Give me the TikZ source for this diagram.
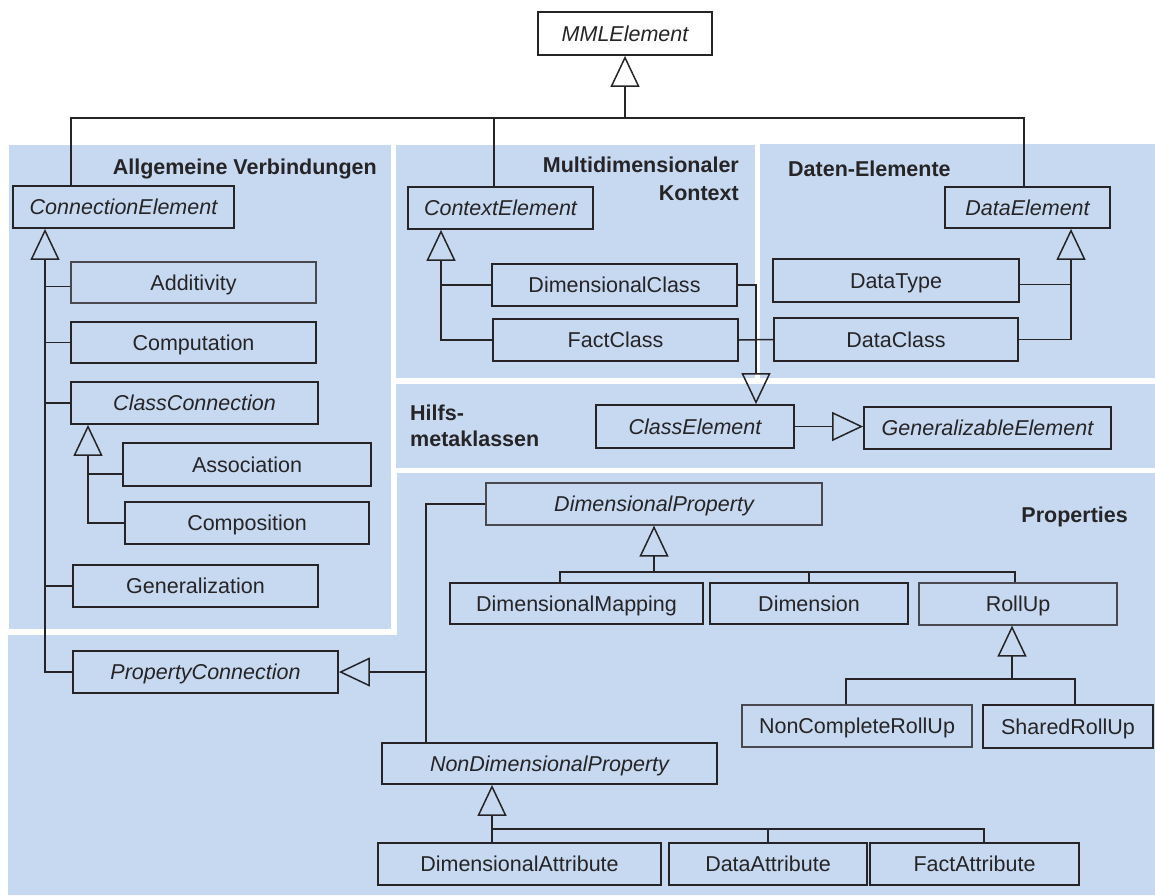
\documentclass[tikz,border=0pt]{standalone}
\usepackage{fontspec}
\setmainfont{Liberation Sans}
\usetikzlibrary{arrows.meta}
\definecolor{panel}{RGB}{198,217,240}
\definecolor{ink}{RGB}{38,36,38}
\definecolor{inkl}{RGB}{72,72,78}
\begin{document}
\begin{tikzpicture}[x=1pt,y=-1pt,
  every node/.style={font=\fontsize{21.5}{26}\selectfont, text=ink},
  box/.style={draw=ink, line width=1.8pt, inner sep=0pt, text height=15.5pt, text depth=0pt},
  lbox/.style={box, draw=inkl, line width=1.2pt},
  abs/.style={font=\fontsize{21.5}{26}\selectfont\itshape},
  head/.style={font=\fontsize{21.5}{26}\selectfont\bfseries, inner sep=0pt},
  conn/.style={draw=ink, line width=1.5pt},
  gen/.style={conn, -{Triangle[open, length=31pt, width=29pt]}},
]
\useasboundingbox (0,0) rectangle (1155,895);
% panels
\fill[panel] (9,145) rectangle (391,629);
\fill[panel] (396,145) rectangle (755,378);
\fill[panel] (760,144) rectangle (1155,378);
\fill[panel] (396,384) rectangle (1155,468);
\fill[panel] (8,635) -- (397,635) -- (397,473) -- (1155,473) -- (1155,895) -- (8,895) -- cycle;
% headings
\node[head, anchor=base east] (hAV) at (377,174) {Allgemeine Verbindungen};
\node[head, anchor=base east] (hMD1) at (739,172) {Multidimensionaler};
\node[head, anchor=base east] (hMD2) at (739,200) {Kontext};
\node[head, anchor=base west] (hDE) at (788,176) {Daten-Elemente};
\node[head, anchor=base west] (hH1) at (410,420) {Hilfs-};
\node[head, anchor=base west] (hH2) at (410,446) {metaklassen};
\node[head, anchor=base east] (hP) at (1128,522) {Properties};
% boxes
\node[box, abs, minimum width=174pt, minimum height=43pt] (MMLElement) at (625,33.5) {MMLElement};
\node[box, abs, minimum width=221pt, minimum height=42pt] (ConnectionElement) at (123.5,207) {ConnectionElement};
\node[box, abs, minimum width=185pt, minimum height=42pt] (ContextElement) at (500.5,208) {ContextElement};
\node[box, abs, minimum width=165pt, minimum height=41pt] (DataElement) at (1027.5,207.5) {DataElement};
\node[lbox, minimum width=245pt, minimum height=41pt] (Additivity) at (193.5,282.5) {Additivity};
\node[box, minimum width=245pt, minimum height=41pt] (Computation) at (193.5,342.5) {Computation};
\node[box, abs, minimum width=247pt, minimum height=42pt] (ClassConnection) at (194.5,403) {ClassConnection};
\node[box, minimum width=248pt, minimum height=43pt] (Association) at (247,464.5) {Association};
\node[box, minimum width=244pt, minimum height=42pt] (Composition) at (247,523) {Composition};
\node[box, minimum width=245pt, minimum height=42pt] (Generalization) at (195.5,586) {Generalization};
\node[box, abs, minimum width=265pt, minimum height=42pt] (PropertyConnection) at (205.5,672) {PropertyConnection};
\node[box, minimum width=245pt, minimum height=42pt] (DimensionalClass) at (614.5,285) {DimensionalClass};
\node[box, minimum width=245pt, minimum height=42pt] (FactClass) at (615.5,340) {FactClass};
\node[box, minimum width=246pt, minimum height=43pt] (DataType) at (896,280.5) {DataType};
\node[box, minimum width=244pt, minimum height=43pt] (DataClass) at (896,339.5) {DataClass};
\node[box, abs, minimum width=198pt, minimum height=43pt] (ClassElement) at (695,426.5) {ClassElement};
\node[box, abs, minimum width=247pt, minimum height=42pt] (GeneralizableElement) at (987.5,428) {GeneralizableElement};
\node[lbox, abs, minimum width=336pt, minimum height=42pt] (DimensionalProperty) at (654,504) {DimensionalProperty};
\node[box, minimum width=253pt, minimum height=41pt] (DimensionalMapping) at (576.5,603.5) {DimensionalMapping};
\node[box, minimum width=198pt, minimum height=41pt] (Dimension) at (809,603.5) {Dimension};
\node[lbox, minimum width=198pt, minimum height=42pt] (RollUp) at (1018,604) {RollUp};
\node[lbox, minimum width=230pt, minimum height=42pt] (NonCompleteRollUp) at (857,726) {NonCompleteRollUp};
\node[box, minimum width=170pt, minimum height=43pt] (SharedRollUp) at (1068,726.5) {SharedRollUp};
\node[box, abs, minimum width=335pt, minimum height=41pt] (NonDimensionalProperty) at (549.5,763.5) {NonDimensionalProperty};
\node[box, minimum width=283pt, minimum height=42pt] (DimensionalAttribute) at (519.5,864) {DimensionalAttribute};
\node[box, minimum width=198pt, minimum height=42pt] (DataAttribute) at (768,864) {DataAttribute};
\node[box, minimum width=209pt, minimum height=42pt] (FactAttribute) at (974.5,864) {FactAttribute};
% coordinates
\coordinate (top) at (625,118);
\coordinate (xA) at (71,0);
\coordinate (xB) at (494,0);
\coordinate (xD) at (1024,0);
\coordinate (cv) at (45,0);
\coordinate (cc) at (88,0);
\coordinate (ctx) at (441,0);
\coordinate (dex) at (1071,0);
\coordinate (cex) at (756,0);
\coordinate (pv) at (426,0);
\coordinate (dpbar) at (654,572);
\coordinate (dmx) at (560,0);
\coordinate (rux) at (1015,0);
\coordinate (rubar) at (1012,679);
\coordinate (ncx) at (846,0);
\coordinate (srx) at (1075,0);
\coordinate (ndbar) at (492,829);
\coordinate (fax) at (984,0);
% connectors
\draw[gen] (top) -- (MMLElement.south);
\draw[conn] (ConnectionElement.north -| xA) |- (top) -| (DataElement.north -| xD);
\draw[conn] (ContextElement.north -| xB) -- (top -| xB);
\draw[gen] (PropertyConnection.west) -| (ConnectionElement.south -| cv);
\draw[conn] ([yshift=-4pt]Additivity.west) -- ++(-26,0);
\draw[conn] (Computation.west) -- (Computation.west -| cv);
\draw[conn] (ClassConnection.west) -- (ClassConnection.west -| cv);
\draw[conn] (Generalization.west) -- (Generalization.west -| cv);
\draw[gen] (Composition.west) -| (ClassConnection.south -| cc);
\draw[conn] ([yshift=-9.5pt]Association.west) -- ++(-35,0);
\draw[gen] (FactClass.west) -| (ContextElement.south -| ctx);
\draw[conn] (DimensionalClass.west) -- (DimensionalClass.west -| ctx);
\draw[gen] (DataClass.east) -| (DataElement.south -| dex);
\draw[conn] ([yshift=-4pt]DataType.east) -- ++(52,0);
\draw[gen] (DimensionalClass.east) -| (ClassElement.north -| cex);
\draw[conn] (FactClass.east) -- (DataClass.west);
\draw[gen] (ClassElement.east) -- (ClassElement.east -| GeneralizableElement.west);
\draw[gen] (PropertyConnection.east -| pv) -- (PropertyConnection.east);
\draw[conn] (DimensionalProperty.west) -| (NonDimensionalProperty.north -| pv);
\draw[gen] (dpbar) -- (DimensionalProperty.south -| dpbar);
\draw[conn] (DimensionalMapping.north -| dmx) |- (dpbar) -| (RollUp.north -| rux);
\draw[conn] (Dimension.north) -- (Dimension.north |- dpbar);
\draw[gen] (rubar) -- (RollUp.south -| rubar);
\draw[conn] (NonCompleteRollUp.north -| ncx) |- (rubar) -| (SharedRollUp.north -| srx);
\draw[gen] (DimensionalAttribute.north -| ndbar) -- (NonDimensionalProperty.south -| ndbar);
\draw[conn] (ndbar) -| (FactAttribute.north -| fax);
\draw[conn] (DataAttribute.north) -- (DataAttribute.north |- ndbar);
\end{tikzpicture}
\end{document}
